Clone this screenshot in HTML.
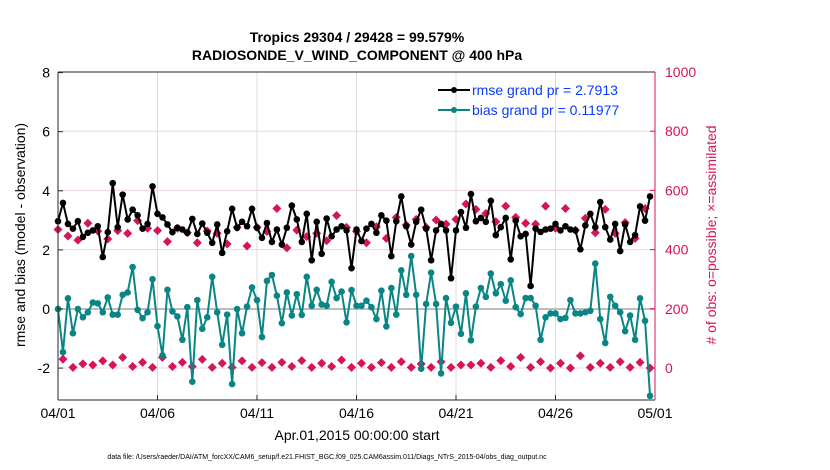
<!DOCTYPE html>
<html><head><meta charset="utf-8"><style>
body{margin:0;background:#fff;}
svg{display:block;font-family:"Liberation Sans",sans-serif;}
</style></head><body>
<svg id="chart" width="830" height="470" xmlns="http://www.w3.org/2000/svg">
<rect width="830" height="470" fill="#fff"/>
<text x="357" y="42" text-anchor="middle" font-size="14" font-weight="bold">Tropics 29304 / 29428 = 99.579%</text>
<text x="357" y="60" text-anchor="middle" font-size="14" font-weight="bold">RADIOSONDE_V_WIND_COMPONENT @ 400 hPa</text>
<g id="grid"></g>
<g id="marks"></g>
<g id="axes"></g>
<text transform="translate(25,235) rotate(-90)" text-anchor="middle" font-size="14">rmse and bias (model - observation)</text>
<text transform="translate(716,235) rotate(-90)" text-anchor="middle" font-size="14" fill="#d6145a"># of obs: o=possible; ×=assimilated</text>
<text x="357" y="440" text-anchor="middle" font-size="14">Apr.01,2015 00:00:00 start</text>
<text x="327" y="459" text-anchor="middle" font-size="7">data file: /Users/raeder/DAI/ATM_forcXX/CAM6_setup/f.e21.FHIST_BGC.f09_025.CAM6assim.011/Diags_NTrS_2015-04/obs_diag_output.nc</text>
<g>
<line x1="438" y1="90" x2="470" y2="90" stroke="#000" stroke-width="2"/><circle cx="454" cy="90" r="3" fill="#000"/>
<text x="472" y="95" font-size="14" fill="#0a3cff">rmse grand pr = 2.7913</text>
<line x1="438" y1="110" x2="470" y2="110" stroke="#0a8585" stroke-width="2"/><circle cx="454" cy="110" r="3" fill="#0a8585"/>
<text x="472" y="115" font-size="14" fill="#0a3cff">bias grand pr = 0.11977</text>
</g>
</svg>
<script>
const rmse=[2.97,3.59,2.88,2.72,2.97,2.44,2.58,2.66,2.80,1.76,2.60,4.26,2.77,3.87,3.03,3.36,3.17,2.72,2.88,4.15,3.22,3.10,2.86,2.60,2.75,2.69,2.58,3.05,2.54,2.89,2.58,2.24,2.86,1.90,2.63,3.39,2.75,2.95,2.80,3.39,2.75,2.41,2.91,2.27,2.69,2.18,2.75,3.50,3.03,2.27,3.22,1.65,2.95,1.87,3.06,2.46,2.69,2.80,2.66,1.38,
2.69,2.30,2.72,2.88,2.58,3.17,2.99,1.79,2.97,3.81,2.80,2.18,2.95,3.36,2.72,1.65,2.66,2.88,2.66,1.04,2.66,3.28,2.75,3.89,2.97,3.08,2.95,3.66,2.50,2.77,3.08,1.68,2.99,2.46,2.54,0.78,2.72,2.61,2.69,2.72,2.88,2.66,2.80,2.69,2.66,2.02,2.83,3.22,2.77,3.62,2.77,2.35,2.88,1.96,2.86,2.27,2.50,3.47,2.99,3.81];
const bias=[0,-1.46,0.36,-0.82,0,-0.28,-0.11,0.22,0.19,-0.11,0.39,-0.19,-0.19,0.48,0.56,1.42,-0.03,-0.31,-0.11,1.01,-0.58,-1.57,0.65,-0.08,-0.25,-1.04,0.06,-2.46,0.30,-0.67,-0.28,1.09,-0.11,-1.21,-0.19,-2.54,0,-0.82,0.08,0.73,0.30,-0.95,0.95,1.15,0.45,-0.48,0.56,-0.22,0.50,-0.20,1.09,0.11,0.65,0.15,0.11,0.92,0.37,0.59,-0.45,0.64,
0.11,0.11,0.28,0.06,-0.34,0.62,-0.59,0.71,-0.19,1.31,0.48,1.79,0.48,-2.02,0.17,1.23,0.17,-2.18,0.37,-0.47,0.08,-0.84,0.53,-1.06,0.08,0.71,0.41,1.20,0.53,0.84,0.28,0.97,0.06,-0.17,0.37,0.37,0.11,-1.04,-0.28,-0.15,-0.15,-0.34,-0.30,0.30,-0.15,-0.15,-0.11,-0.06,1.54,-0.34,-1.15,0.41,0.11,-0.11,-0.75,-0.22,-1.04,0.36,-0.40,-2.94];
const obsUpper=[468,446,432,489,463,436,464,455,498,472,464,427,472,457,423,463,455,419,475,412,475,461,539,406,466,444,455,430,515,475,461,423,477,438,509,483,502,475,500,486,502,554,536,522,494,547,509,489,486,547,472,539,466,506,457,536,455,491,438,539];
const obsLower=[30,2,14,10,24,10,36,5,19,2,36,5,19,5,29,2,16,2,24,2,18,2,19,5,25,2,16,5,27,2,16,2,18,2,21,2,14,2,21,2,10,10,16,2,25,5,36,2,21,0,16,0,41,2,16,2,21,2,19,0];
const xTicks=["04/01","04/06","04/11","04/16","04/21","04/26","05/01"];
const yLeftTicks=[-2,0,2,4,6,8];
const yRightTicks=[0,200,400,600,800,1000];

const X0=58,X1=655,Y0=400,Y1=72;
const step=(X1-X0)/120;
const xi=i=>X0+i*step;
const yL=v=>309-v*29.55;
const yR=c=>368-c*0.296;
const NS="http://www.w3.org/2000/svg";
function mk(t,a,p){const e=document.createElementNS(NS,t);for(const k in a)e.setAttribute(k,a[k]);p.appendChild(e);return e;}
const grid=document.getElementById('grid'),marks=document.getElementById('marks'),axes=document.getElementById('axes');
mk('rect',{x:X0,y:Y1,width:X1-X0,height:Y0-Y1,fill:'#fff'},grid);
xTicks.forEach((t,k)=>{const x=X0+k*(X1-X0)/6;
 const l=mk('line',{x1:x,y1:Y1,x2:x,y2:Y0,stroke:'#dcdcdc','stroke-width':1},grid);
 
 
 const tx=mk('text',{x:x,y:418,'text-anchor':'middle','font-size':14},axes);tx.textContent=t;
 
 
 mk('line',{x1:x,y1:Y0,x2:x,y2:Y0-5,stroke:'#262626'},axes);
});
yRightTicks.forEach(c=>{const y=yR(c);
 const l=mk('line',{x1:X0,y1:y,x2:X1,y2:y,stroke:'#f3d6df','stroke-width':1},grid);
 
 
 const tx=mk('text',{x:X1+10,y:y+5,'font-size':14,fill:'#d6145a'},axes);tx.textContent=c;
 
 
 mk('line',{x1:X1,y1:y,x2:X1-5,y2:y,stroke:'#d6145a'},axes);
});
const z=mk('line',{x1:X0,y1:yL(0),x2:X1,y2:yL(0),stroke:'#bdbdbd','stroke-width':2},grid);


yLeftTicks.forEach(v=>{const y=yL(v);
 const tx=mk('text',{x:X0-8,y:y+5,'text-anchor':'end','font-size':14},axes);tx.textContent=v;
 
 
 mk('line',{x1:X0,y1:y,x2:X0+5,y2:y,stroke:'#262626'},axes);
});
mk('line',{x1:X0,y1:Y1,x2:X0,y2:Y0,stroke:'#262626'},axes);
mk('line',{x1:X0,y1:Y0,x2:X1,y2:Y0,stroke:'#262626'},axes);
mk('line',{x1:X0,y1:Y1,x2:X1,y2:Y1,stroke:'#262626'},axes);
mk('line',{x1:X1,y1:Y1,x2:X1,y2:Y0,stroke:'#d6145a'},axes);
function diamond(x,y,name){const r=4.5;const p=mk('polygon',{points:`${x},${y-r} ${x+r},${y} ${x},${y+r} ${x-r},${y}`,fill:'#d6145a'},marks);
 
 }
obsUpper.forEach((c,k)=>diamond(xi(2*k),yR(c),'obs-count-marker'));
obsLower.forEach((c,k)=>diamond(xi(2*k+1),yR(c),'obs-assimilated-marker'));
function series(arr,col,name){
 const pl=mk('polyline',{points:arr.map((v,i)=>xi(i)+','+yL(v)).join(' '),fill:'none',stroke:col,'stroke-width':2},marks);
 
 
 arr.forEach((v,i)=>{const c=mk('circle',{cx:xi(i),cy:yL(v),r:3.3,fill:col},marks);
  
  });
}
series(bias,'#0a8585','bias');
series(rmse,'#000','rmse');
</script>
</body></html>
